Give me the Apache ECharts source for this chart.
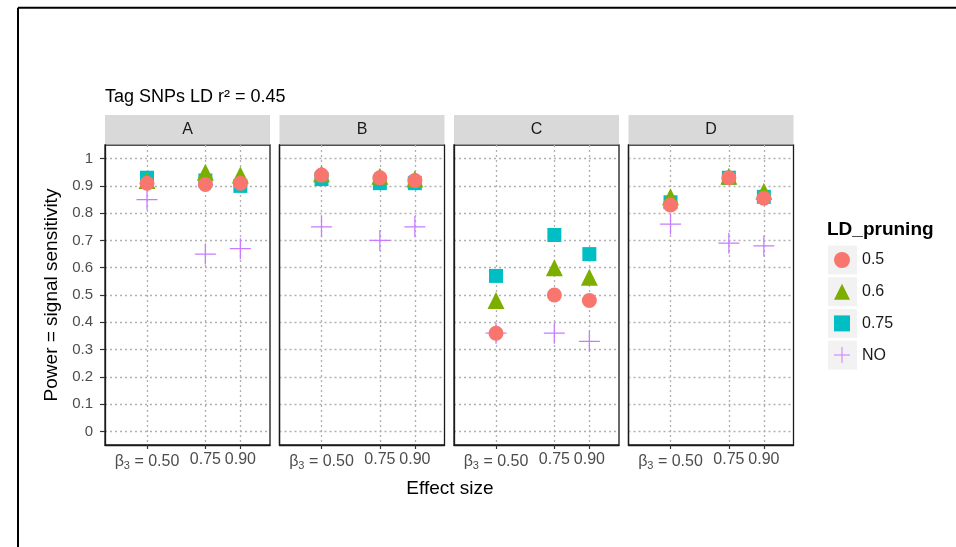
<!DOCTYPE html>
<html>
<head>
<meta charset="utf-8">
<script src="https://cdn.jsdelivr.net/npm/echarts@6/dist/echarts.min.js"></script>
<style>
  html, body { margin: 0; padding: 0; background: #fff; }
  #chart { width: 956px; height: 547px; }
</style>
</head>
<body>
<div id="chart"></div>
<script>
// data
const panels = ['A', 'B', 'C', 'D'];
const effectSizes = [0.5, 0.75, 0.9];
const yTicks = [0, 0.1, 0.2, 0.3, 0.4, 0.5, 0.6, 0.7, 0.8, 0.9, 1];
const pruning = ['0.5', '0.6', '0.75', 'NO'];
// one row per panel (A..D), one value per effect size
const prune05 = [[0.91, 0.905, 0.91], [0.94, 0.93, 0.92], [0.36, 0.50, 0.48], [0.83, 0.93, 0.855]];
const prune06 = [[0.92, 0.95, 0.94], [0.945, 0.935, 0.925], [0.48, 0.60, 0.565], [0.86, 0.935, 0.88]];
const prune075 = [[0.93, 0.92, 0.90], [0.925, 0.91, 0.91], [0.57, 0.72, 0.65], [0.84, 0.93, 0.86]];
const pruneNO = [[0.85, 0.65, 0.67], [0.75, 0.70, 0.75], [0.36, 0.36, 0.33], [0.76, 0.69, 0.68]];

const colors = ['#F8766D', '#7CAE00', '#00BFC4', '#C77CFF'];
const plusPath = 'path://M0,9.4H20V10.6H0Z M9.4,0H10.6V20H9.4Z';
const symbols = ['circle', 'triangle', 'rect', plusPath];
const sizes = [15, 17, 14, 21];
const zOrder = [5, 4, 3, 2];
const seriesValues = [prune05, prune06, prune075, pruneNO];

// layout
const panelLeft = 105, panelPitch = 174.5, panelW = 165;
const panelTop = 145, panelH = 300, stripH = 30;
const legendTop = 252, rowPitch = 31.7;

const chart = echarts.init(document.getElementById('chart'));

const grids = [], xAxes = [], yAxes = [], series = [], graphics = [];
const font = 'Liberation Sans, Arial, sans-serif';
const gridLine = { show: true, lineStyle: { color: '#b0b0b0', type: [2, 3], width: 1.3 } };

panels.forEach((p, i) => {
  const left = panelLeft + i * panelPitch;
  grids.push({
    left: left, top: panelTop, width: panelW, height: panelH,
    show: true, borderColor: '#1a1a1a', borderWidth: 1.3, backgroundColor: '#fff'
  });
  xAxes.push({
    type: 'value', gridIndex: i, position: 'bottom', min: 0.32, max: 1.027,
    axisLine: { show: true, onZero: false, lineStyle: { color: '#1a1a1a', width: 1.3 } },
    axisTick: { show: true, inside: false, length: 4, customValues: effectSizes, lineStyle: { color: '#333', width: 1.2 } },
    axisLabel: {
      customValues: effectSizes, margin: 7, hideOverlap: false,
      color: '#4d4d4d', fontSize: 16, fontFamily: font,
      formatter: v => v === 0.5 ? '{g|β}{s|3}{n| = 0.50}' : v.toFixed(2),
      rich: {
        g: { fontSize: 16, color: '#4d4d4d', fontFamily: font },
        s: { fontSize: 11, color: '#4d4d4d', fontFamily: font, padding: [8, 0, 0, 0] },
        n: { fontSize: 16, color: '#4d4d4d', fontFamily: font }
      }
    },
    splitLine: gridLine
  });
  yAxes.push({
    type: 'value', gridIndex: i, position: 'left', min: -0.05, max: 1.05,
    axisLine: { show: true, onZero: false, lineStyle: { color: '#1a1a1a', width: 1.3 } },
    axisTick: { show: i === 0, inside: false, length: 5, customValues: yTicks, lineStyle: { color: '#333', width: 1.2 } },
    axisLabel: {
      show: i === 0, customValues: yTicks, margin: 12,
      color: '#4d4d4d', fontSize: 15, fontFamily: font,
      formatter: v => String(+v.toFixed(1))
    },
    splitLine: gridLine,
    name: i === 0 ? 'Power = signal sensitivity' : '',
    nameLocation: 'middle', nameGap: 44, nameRotate: 90,
    nameTextStyle: { fontSize: 19, color: '#000', fontFamily: font }
  });
  pruning.forEach((name, k) => {
    series.push({
      type: 'scatter', name: name, xAxisIndex: i, yAxisIndex: i,
      symbol: symbols[k], symbolSize: sizes[k], z: zOrder[k], clip: false,
      itemStyle: { color: colors[k], opacity: 1 },
      data: effectSizes.map((x, j) => [x, seriesValues[k][i][j]])
    });
  });
  // facet strip
  graphics.push({
    type: 'rect', left: left, top: panelTop - stripH, z: 0,
    shape: { width: panelW, height: stripH - 0.5 }, style: { fill: '#d9d9d9' }
  });
  graphics.push({
    type: 'text', x: left + panelW / 2, y: panelTop - stripH / 2,
    style: { text: p, font: '16px ' + font, fill: '#1a1a1a', align: 'center', verticalAlign: 'middle' }
  });
});

// legend key backgrounds
pruning.forEach((name, k) => {
  graphics.push({
    type: 'rect', left: 828, top: legendTop + 8 + k * rowPitch - 14.5, z: 0,
    shape: { width: 29, height: 29 }, style: { fill: '#f2f2f2' }
  });
});
graphics.push({
  type: 'text', x: 827, y: 230,
  style: { text: 'LD_pruning', font: 'bold 19px ' + font, fill: '#000', verticalAlign: 'middle' }
});
graphics.push({
  type: 'text', x: 450, y: 489,
  style: { text: 'Effect size', font: '19px ' + font, fill: '#000', align: 'center', verticalAlign: 'middle' }
});
// outer frame
graphics.push({ type: 'line', shape: { x1: 18, y1: 7.7, x2: 956, y2: 7.7 }, style: { stroke: '#000', lineWidth: 2 } });
graphics.push({ type: 'line', shape: { x1: 18, y1: 7.7, x2: 18, y2: 547 }, style: { stroke: '#000', lineWidth: 2 } });

chart.setOption({
  animation: false,
  backgroundColor: '#fff',
  title: {
    text: 'Tag SNPs LD r² = 0.45', left: 100, top: 83,
    textStyle: { fontSize: 18, fontWeight: 'normal', color: '#000', fontFamily: font }
  },
  legend: {
    orient: 'vertical', left: 834, top: legendTop, padding: 0,
    itemWidth: 16, itemHeight: 16, itemGap: rowPitch - 16, selectedMode: false,
    data: pruning,
    textStyle: { fontSize: 16, color: '#1a1a1a', fontFamily: font, padding: [0, 0, 0, 7] }
  },
  grid: grids,
  xAxis: xAxes,
  yAxis: yAxes,
  series: series,
  graphic: graphics
});
window.addEventListener('resize', () => chart.resize());
</script>
</body>
</html>
